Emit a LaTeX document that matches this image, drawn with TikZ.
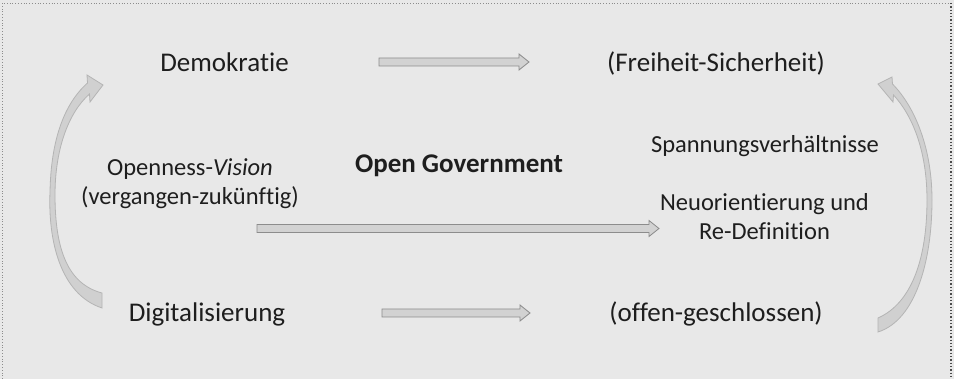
\documentclass[tikz,border=0pt]{standalone}
\usepackage{fontspec}
\setmainfont{Carlito}[Ligatures={NoCommon}]
\usetikzlibrary{calc}
\definecolor{bg}{HTML}{E8E8E8}
\definecolor{txt}{HTML}{1E1E1E}
\definecolor{arrfill}{HTML}{D2D2D2}
\definecolor{arrline}{HTML}{8C8C8C}
\definecolor{curvefill}{HTML}{D0D0D0}
\definecolor{curveline}{HTML}{B4B4B4}
\tikzset{
  big/.style={text=txt, font=\fontsize{27}{32}\selectfont, anchor=base, inner sep=0pt},
  small/.style={text=txt, font=\fontsize{24.5}{29}\selectfont, anchor=base, inner sep=0pt, align=center},
  blk/.style={fill=arrfill, draw=arrline, line width=0.8pt, line join=miter},
  crv/.style={fill=curvefill, draw=curveline, line width=0.8pt, line join=miter},
  frame/.style={draw=black!45, dotted, line width=0.8pt},
}
\newcommand\blockarrow[2]{%
  \draw[blk] ([yshift=4pt]#1) -- ([xshift=-10pt,yshift=4pt]#2) -- ([xshift=-10pt,yshift=8pt]#2)
    -- (#2) -- ([xshift=-10pt,yshift=-8pt]#2) -- ([xshift=-10pt,yshift=-4pt]#2)
    -- ([yshift=-4pt]#1) -- cycle;}
\begin{document}
\begin{tikzpicture}[x=1pt,y=-1pt]
\fill[bg] (0,0) rectangle (954,379);
\useasboundingbox (0,0) rectangle (954,379);
% frame
\draw[frame] (2,379) -- (2,3) -- (951,3);
\draw[draw=black!70, dotted, line width=1.3pt] (951,3) -- (951,379);

% texts
\node[big] (demo) at (224.5,72) {Demokratie};
\node[big] (frei) at (716,72) {(Freiheit-Sicherheit)};
\node[small] (open1) at (190,176) {Openness-\textit{Vision}};
\node[small] (open2) at (190,205) {(vergangen-zukünftig)};
\node[big, font=\fontsize{27}{32}\selectfont\bfseries] (og) at (459,173) {Open Government};
\node[small] (span) at (765,153) {Spannungsverhältnisse};
\node[small] (neu1) at (764.5,211) {Neuorientierung und};
\node[small] (neu2) at (764.5,240) {Re-Definition};
\node[big] (digi) at (207,322) {Digitalisierung};
\node[big] (offen) at (716,322) {(offen-geschlossen)};

% straight block arrows
\coordinate (a1s) at (379,62);   \coordinate (a1e) at (529,62);
\coordinate (a2s) at (257,228.5); \coordinate (a2e) at (659,228.5);
\coordinate (a3s) at (382,313);  \coordinate (a3e) at (530,313);
\blockarrow{a1s}{a1e}
\blockarrow{a2s}{a2e}
\blockarrow{a3s}{a3e}

% left curved arrow (Digitalisierung -> Demokratie)
\draw[crv] (102,308) .. controls (60,294) and (48,240) .. (50,192)
  .. controls (51,140) and (64,104) .. (87.5,83)
  -- (87,75) -- (103,85) -- (90,102) -- (89.5,94)
  .. controls (68,113) and (55,150) .. (55,195)
  .. controls (55,250) and (68,284) .. (102,293) -- cycle;

% right curved arrow (offen-geschlossen -> Freiheit-Sicherheit)
\draw[crv] (878,332) .. controls (916,320) and (932,260) .. (932,200)
  .. controls (932,150) and (916,108) .. (892.5,84)
  -- (892,77) -- (878,84) -- (893,102) -- (893.5,95)
  .. controls (912,115) and (927,150) .. (927,200)
  .. controls (927,258) and (912,303) .. (878,318) -- cycle;
\end{tikzpicture}
\end{document}
